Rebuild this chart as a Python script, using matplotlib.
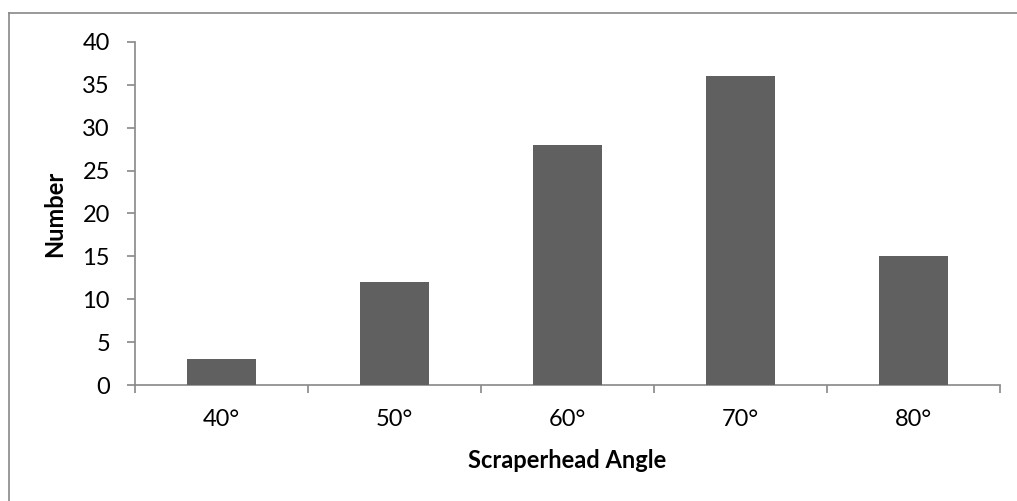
import matplotlib.pyplot as plt
from matplotlib.lines import Line2D

plt.rcParams['font.family'] = ['Lato', 'DejaVu Sans']

# Scraper counts by head angle
angles = ['40°', '50°', '60°', '70°', '80°']
counts = [3, 12, 28, 36, 15]

W, H = 1017, 501
fig = plt.figure(figsize=(W / 100, H / 100), dpi=100)
ax = fig.add_axes([135 / W, 1 - 385 / H, 865 / W, 343 / H])

axis_grey = '#888888'
x = range(len(angles))
ax.bar(x, counts, width=0.4, color='#606060', zorder=3)

ax.set_xlim(-0.5, len(angles) - 0.5)
ax.set_ylim(0, 40)
ax.set_yticks(range(0, 41, 5))
ax.set_xticks(list(x))
ax.set_xticklabels(angles)
# category boundary ticks like a spreadsheet chart
ax.set_xticks([i - 0.5 for i in range(len(angles) + 1)], minor=True)
ax.tick_params(axis='x', which='major', length=0, pad=17, labelsize=17)
ax.tick_params(axis='x', which='minor', length=6, width=1.2, color=axis_grey)
ax.tick_params(axis='y', length=6, width=1.2, color=axis_grey, labelsize=17, pad=12)

for side in ['top', 'right']:
    ax.spines[side].set_visible(False)
for side in ['left', 'bottom']:
    ax.spines[side].set_color(axis_grey)
    ax.spines[side].set_linewidth(1.2)

ax.set_xlabel('Scraperhead Angle', fontsize=17, fontweight='bold', labelpad=14)
ax.set_ylabel('Number', fontsize=17, fontweight='bold', labelpad=12)

# outer frame of the chart area
fig.add_artist(Line2D([8.5 / W, 8.5 / W], [0, 1 - 12.5 / H], transform=fig.transFigure,
                      color=axis_grey, lw=1.2))
fig.add_artist(Line2D([8.5 / W, 1], [1 - 12.5 / H, 1 - 12.5 / H], transform=fig.transFigure,
                      color=axis_grey, lw=1.2))

fig.savefig('out.png', dpi=100)
